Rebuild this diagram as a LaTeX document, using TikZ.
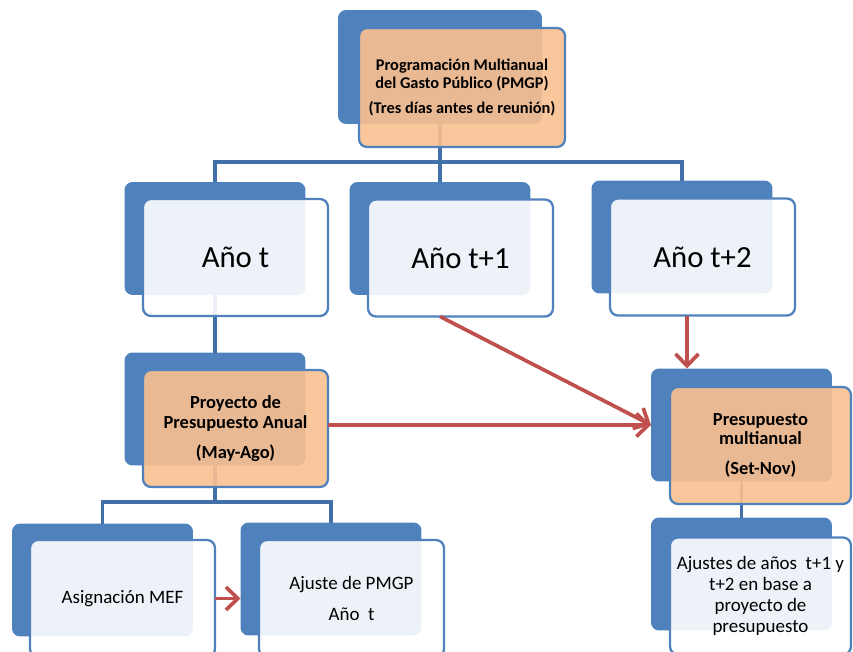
\documentclass[tikz,border=0pt]{standalone}
\usepackage{fontspec}
\setmainfont{Carlito}
\usetikzlibrary{arrows.meta}
\definecolor{smblue}{HTML}{4F81BD}
\definecolor{smline}{HTML}{4370A8}
\definecolor{smorange}{HTML}{FAC090}
\definecolor{smred}{HTML}{C0504D}

\begin{document}
\begin{tikzpicture}[x=0.02cm,y=-0.02cm,
        back/.style={rectangle,rounded corners=0.16cm,fill=smblue,minimum width=3.62cm,minimum height=2.26cm,inner sep=0pt,outer sep=0pt},
        front/.style={rectangle,rounded corners=0.16cm,draw=smblue,line width=1.3pt,fill=white,fill opacity=0.9,text opacity=1,minimum width=3.7cm,minimum height=2.34cm,inner sep=0pt,outer sep=0pt,align=center},
        hot/.style={front,fill=smorange},
        conn/.style={draw=smline,line width=2pt},
        flow/.style={draw=smred,line width=2.1pt,-{Straight Barb[length=2.4mm,width=4.6mm]}}]
            \useasboundingbox (0,0) rectangle (853,652);
            \node[back,minimum width=4.08cm,minimum height=2.28cm] (pmgpB) at (440,67) {};
            \foreach \n/\x/\y in {tB/215/238.5,t1B/440/238.5,t2B/682/237,proyB/215/409,presB/741.5/425,ajsB/741.5/574,asigB/102.5/580,ajpB/331/579}{
                \node[back] (\n) at (\x,\y) {};
            }
            \coordinate (splitT) at (440,162);
            \coordinate (splitA) at (215,502);
            \draw[conn] (pmgpB.south) -- (splitT) -- (t1B.north);
            \draw[conn] (tB.north) |- (splitT) -| (t2B.north);
            \draw[conn] (tB.south) -- (proyB.north);
            \draw[conn] (proyB.south) -- (splitA);
            \draw[conn] (asigB.north) |- (splitA) -| (ajpB.north);
            \draw[conn] (presB.south) -- (ajsB.north);
            \node[hot,minimum width=4.12cm,minimum height=2.38cm,font=\bfseries\fontsize{9.3}{10.2}\selectfont] (pmgpF) at (462,87.5) {Programación Multianual\\del Gasto Público (PMGP)\\[4pt](Tres días antes de reunión)};
            \node[front,font=\fontsize{17.5}{21}\selectfont] (tF) at (235.5,257.5) {Año t};
            \node[front,font=\fontsize{17.5}{21}\selectfont] (t1F) at (460.5,258) {Año t+1};
            \node[front,font=\fontsize{17.5}{21}\selectfont] (t2F) at (702.5,257) {Año t+2};
            \node[hot,font=\bfseries\fontsize{10.5}{11}\selectfont] (proyF) at (235.5,428.5) {Proyecto de\\Presupuesto Anual\\[6pt](May-Ago)};
            \node[hot,minimum width=3.62cm,font=\bfseries\fontsize{10.5}{11}\selectfont] (presF) at (760.5,445.5) {Presupuesto\\multianual\\[6pt](Set-Nov)};
            \node[front,minimum width=3.62cm,font=\fontsize{10.8}{12.1}\selectfont] (ajsF) at (760.5,596) {Ajustes de años\ \ t+1 y\\t+2 en base a\\proyecto de\\presupuesto};
            \node[front,font=\fontsize{10.8}{12.1}\selectfont] (asigF) at (122.5,598.5) {Asignación MEF};
            \node[front,font=\fontsize{10.8}{12.1}\selectfont] (ajpF) at (351.5,598.5) {Ajuste de PMGP\\[5pt]Año\ \ t};
            \coordinate (t2drop) at (687,316);
            \draw[flow] (t1B |- t1F.south) -- (presB.west);
            \draw[flow] (proyF.east |- presB.west) -- (presB.west);
            \draw[flow] (t2drop) -- (t2drop |- presB.north);
            \draw[flow] (asigF.east) -- (asigF.east -| ajpB.west);
        \end{tikzpicture}
\end{document}
